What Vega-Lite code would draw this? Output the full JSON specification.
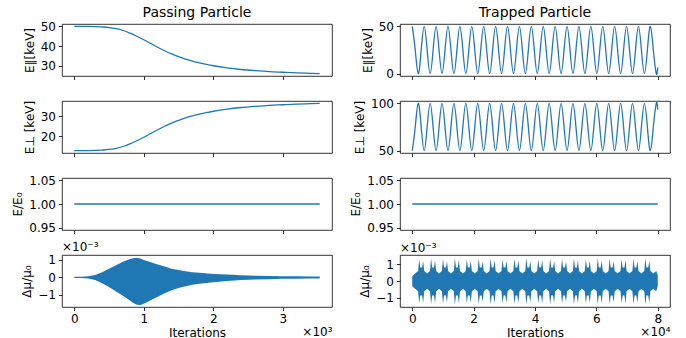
{
  "$schema": "https://vega.github.io/schema/vega-lite/v6.json",
  "padding": {"left": 11, "top": 5, "right": 16, "bottom": 0},
  "background": "white",
  "columns": 2,
  "spacing": {"row": 25, "column": 68},
  "bounds": "flush",
  "align": "all",
  "datasets": {
    "pass": [
      {"x":0,"epar":50.0,"eperp":12.6},{"x":0.2,"epar":49.95,"eperp":12.65},{"x":0.4,"epar":49.7,"eperp":12.9},{"x":0.5,"epar":49.4,"eperp":13.2},{"x":0.6,"epar":48.8,"eperp":13.8},{"x":0.7,"epar":47.9,"eperp":14.7},{"x":0.8,"epar":46.6,"eperp":16.0},{"x":0.9,"epar":45.0,"eperp":17.6},{"x":1.0,"epar":43.2,"eperp":19.4},{"x":1.1,"epar":41.3,"eperp":21.3},{"x":1.2,"epar":39.4,"eperp":23.2},{"x":1.3,"epar":37.6,"eperp":25.0},{"x":1.4,"epar":36.0,"eperp":26.6},{"x":1.5,"epar":34.6,"eperp":28.0},{"x":1.6,"epar":33.4,"eperp":29.2},{"x":1.7,"epar":32.4,"eperp":30.2},{"x":1.8,"epar":31.5,"eperp":31.1},{"x":1.9,"epar":30.7,"eperp":31.9},{"x":2.0,"epar":30.0,"eperp":32.6},{"x":2.2,"epar":28.9,"eperp":33.7},{"x":2.4,"epar":28.1,"eperp":34.5},{"x":2.6,"epar":27.5,"eperp":35.1},{"x":2.8,"epar":27.0,"eperp":35.6},{"x":3.0,"epar":26.7,"eperp":35.9},{"x":3.2,"epar":26.4,"eperp":36.2},{"x":3.4,"epar":26.15,"eperp":36.45},{"x":3.53,"epar":26.0,"eperp":36.6}
    ],
    "trap": [
      {"x":0,"epar":50,"eperp":50},{"x":0.097,"epar":25,"eperp":75},{"x":0.194,"epar":0,"eperp":100},{"x":0.291,"epar":25,"eperp":75},
      {"x":0.388,"epar":50,"eperp":50},{"x":0.485,"epar":25,"eperp":75},{"x":0.582,"epar":0,"eperp":100},{"x":0.679,"epar":25,"eperp":75},
      {"x":0.776,"epar":50,"eperp":50},{"x":0.873,"epar":25,"eperp":75},{"x":0.97,"epar":0,"eperp":100},{"x":1.067,"epar":25,"eperp":75},
      {"x":1.164,"epar":50,"eperp":50},{"x":1.261,"epar":25,"eperp":75},{"x":1.358,"epar":0,"eperp":100},{"x":1.455,"epar":25,"eperp":75},
      {"x":1.552,"epar":50,"eperp":50},{"x":1.649,"epar":25,"eperp":75},{"x":1.746,"epar":0,"eperp":100},{"x":1.843,"epar":25,"eperp":75},
      {"x":1.94,"epar":50,"eperp":50},{"x":2.037,"epar":25,"eperp":75},{"x":2.134,"epar":0,"eperp":100},{"x":2.231,"epar":25,"eperp":75},
      {"x":2.328,"epar":50,"eperp":50},{"x":2.425,"epar":25,"eperp":75},{"x":2.522,"epar":0,"eperp":100},{"x":2.619,"epar":25,"eperp":75},
      {"x":2.716,"epar":50,"eperp":50},{"x":2.813,"epar":25,"eperp":75},{"x":2.91,"epar":0,"eperp":100},{"x":3.007,"epar":25,"eperp":75},
      {"x":3.104,"epar":50,"eperp":50},{"x":3.201,"epar":25,"eperp":75},{"x":3.298,"epar":0,"eperp":100},{"x":3.395,"epar":25,"eperp":75},
      {"x":3.492,"epar":50,"eperp":50},{"x":3.589,"epar":25,"eperp":75},{"x":3.686,"epar":0,"eperp":100},{"x":3.783,"epar":25,"eperp":75},
      {"x":3.88,"epar":50,"eperp":50},{"x":3.977,"epar":25,"eperp":75},{"x":4.074,"epar":0,"eperp":100},{"x":4.171,"epar":25,"eperp":75},
      {"x":4.268,"epar":50,"eperp":50},{"x":4.365,"epar":25,"eperp":75},{"x":4.462,"epar":0,"eperp":100},{"x":4.559,"epar":25,"eperp":75},
      {"x":4.656,"epar":50,"eperp":50},{"x":4.753,"epar":25,"eperp":75},{"x":4.85,"epar":0,"eperp":100},{"x":4.947,"epar":25,"eperp":75},
      {"x":5.044,"epar":50,"eperp":50},{"x":5.141,"epar":25,"eperp":75},{"x":5.238,"epar":0,"eperp":100},{"x":5.335,"epar":25,"eperp":75},
      {"x":5.432,"epar":50,"eperp":50},{"x":5.529,"epar":25,"eperp":75},{"x":5.626,"epar":0,"eperp":100},{"x":5.723,"epar":25,"eperp":75},
      {"x":5.82,"epar":50,"eperp":50},{"x":5.917,"epar":25,"eperp":75},{"x":6.014,"epar":0,"eperp":100},{"x":6.111,"epar":25,"eperp":75},
      {"x":6.208,"epar":50,"eperp":50},{"x":6.305,"epar":25,"eperp":75},{"x":6.402,"epar":0,"eperp":100},{"x":6.499,"epar":25,"eperp":75},
      {"x":6.596,"epar":50,"eperp":50},{"x":6.693,"epar":25,"eperp":75},{"x":6.79,"epar":0,"eperp":100},{"x":6.887,"epar":25,"eperp":75},
      {"x":6.984,"epar":50,"eperp":50},{"x":7.081,"epar":25,"eperp":75},{"x":7.178,"epar":0,"eperp":100},{"x":7.275,"epar":25,"eperp":75},
      {"x":7.372,"epar":50,"eperp":50},{"x":7.469,"epar":25,"eperp":75},{"x":7.566,"epar":0,"eperp":100},{"x":7.663,"epar":25,"eperp":75},
      {"x":7.76,"epar":50,"eperp":50},{"x":7.857,"epar":25,"eperp":75},{"x":7.954,"epar":0,"eperp":100},{"x":8.0,"epar":6.6,"eperp":93.4}
    ],
    "r1": [{"x":0,"r":1},{"x":3.53,"r":1}],
    "r2": [{"x":0,"r":1},{"x":8,"r":1}],
    "mu1": [
      {"x":0,"hi":0.04,"lo":-0.04},{"x":0.1,"hi":0.04,"lo":-0.04},{"x":0.2,"hi":0.06,"lo":-0.06},{"x":0.3,"hi":0.14,"lo":-0.15},{"x":0.4,"hi":0.3,"lo":-0.33},{"x":0.5,"hi":0.5,"lo":-0.55},{"x":0.6,"hi":0.7,"lo":-0.8},{"x":0.7,"hi":0.9,"lo":-1.05},{"x":0.8,"hi":1.05,"lo":-1.32},{"x":0.85,"hi":1.1,"lo":-1.46},{"x":0.9,"hi":1.13,"lo":-1.56},{"x":0.95,"hi":1.08,"lo":-1.58},{"x":1.0,"hi":0.99,"lo":-1.5},{"x":1.1,"hi":0.86,"lo":-1.3},{"x":1.2,"hi":0.74,"lo":-1.1},{"x":1.3,"hi":0.62,"lo":-0.9},{"x":1.4,"hi":0.5,"lo":-0.73},{"x":1.5,"hi":0.42,"lo":-0.6},{"x":1.6,"hi":0.35,"lo":-0.5},{"x":1.7,"hi":0.3,"lo":-0.42},{"x":1.8,"hi":0.26,"lo":-0.36},{"x":2.0,"hi":0.2,"lo":-0.27},{"x":2.2,"hi":0.16,"lo":-0.2},{"x":2.4,"hi":0.12,"lo":-0.15},{"x":2.6,"hi":0.1,"lo":-0.12},{"x":2.8,"hi":0.08,"lo":-0.1},{"x":3.0,"hi":0.07,"lo":-0.08},{"x":3.2,"hi":0.06,"lo":-0.07},{"x":3.4,"hi":0.05,"lo":-0.06},{"x":3.53,"hi":0.05,"lo":-0.06}
    ],
    "mu2": [
      {"x":0,"hi":0.3,"lo":-0.3},
      {"x":0.096,"hi":0.45,"lo":-0.45},{"x":0.19,"hi":0.6,"lo":-0.6},{"x":0.225,"hi":1.3,"lo":-1.32},{"x":0.26,"hi":0.8,"lo":-0.85},{"x":0.32,"hi":0.8,"lo":-0.85},{"x":0.355,"hi":1.2,"lo":-1.28},{"x":0.39,"hi":0.6,"lo":-0.6},
      {"x":0.484,"hi":0.45,"lo":-0.45},{"x":0.578,"hi":0.6,"lo":-0.6},{"x":0.613,"hi":1.35,"lo":-1.37},{"x":0.648,"hi":0.8,"lo":-0.85},{"x":0.708,"hi":0.8,"lo":-0.85},{"x":0.743,"hi":1.22,"lo":-1.3},{"x":0.778,"hi":0.6,"lo":-0.6},
      {"x":0.872,"hi":0.45,"lo":-0.45},{"x":0.966,"hi":0.6,"lo":-0.6},{"x":1.001,"hi":1.33,"lo":-1.35},{"x":1.036,"hi":0.8,"lo":-0.85},{"x":1.096,"hi":0.8,"lo":-0.85},{"x":1.131,"hi":1.18,"lo":-1.26},{"x":1.166,"hi":0.6,"lo":-0.6},
      {"x":1.26,"hi":0.45,"lo":-0.45},{"x":1.354,"hi":0.6,"lo":-0.6},{"x":1.389,"hi":1.37,"lo":-1.39},{"x":1.424,"hi":0.8,"lo":-0.85},{"x":1.484,"hi":0.8,"lo":-0.85},{"x":1.519,"hi":1.25,"lo":-1.33},{"x":1.554,"hi":0.6,"lo":-0.6},
      {"x":1.648,"hi":0.45,"lo":-0.45},{"x":1.742,"hi":0.6,"lo":-0.6},{"x":1.777,"hi":1.3,"lo":-1.32},{"x":1.812,"hi":0.8,"lo":-0.85},{"x":1.872,"hi":0.8,"lo":-0.85},{"x":1.907,"hi":1.2,"lo":-1.28},{"x":1.942,"hi":0.6,"lo":-0.6},
      {"x":2.036,"hi":0.45,"lo":-0.45},{"x":2.13,"hi":0.6,"lo":-0.6},{"x":2.165,"hi":1.35,"lo":-1.37},{"x":2.2,"hi":0.8,"lo":-0.85},{"x":2.26,"hi":0.8,"lo":-0.85},{"x":2.295,"hi":1.15,"lo":-1.23},{"x":2.33,"hi":0.6,"lo":-0.6},
      {"x":2.424,"hi":0.45,"lo":-0.45},{"x":2.518,"hi":0.6,"lo":-0.6},{"x":2.553,"hi":1.36,"lo":-1.38},{"x":2.588,"hi":0.8,"lo":-0.85},{"x":2.648,"hi":0.8,"lo":-0.85},{"x":2.683,"hi":1.24,"lo":-1.32},{"x":2.718,"hi":0.6,"lo":-0.6},
      {"x":2.812,"hi":0.45,"lo":-0.45},{"x":2.906,"hi":0.6,"lo":-0.6},{"x":2.941,"hi":1.3,"lo":-1.32},{"x":2.976,"hi":0.8,"lo":-0.85},{"x":3.036,"hi":0.8,"lo":-0.85},{"x":3.071,"hi":1.2,"lo":-1.28},{"x":3.106,"hi":0.6,"lo":-0.6},
      {"x":3.2,"hi":0.45,"lo":-0.45},{"x":3.294,"hi":0.6,"lo":-0.6},{"x":3.329,"hi":1.34,"lo":-1.36},{"x":3.364,"hi":0.8,"lo":-0.85},{"x":3.424,"hi":0.8,"lo":-0.85},{"x":3.459,"hi":1.22,"lo":-1.3},{"x":3.494,"hi":0.6,"lo":-0.6},
      {"x":3.588,"hi":0.45,"lo":-0.45},{"x":3.682,"hi":0.6,"lo":-0.6},{"x":3.717,"hi":1.37,"lo":-1.39},{"x":3.752,"hi":0.8,"lo":-0.85},{"x":3.812,"hi":0.8,"lo":-0.85},{"x":3.847,"hi":1.18,"lo":-1.26},{"x":3.882,"hi":0.6,"lo":-0.6},
      {"x":3.976,"hi":0.45,"lo":-0.45},{"x":4.07,"hi":0.6,"lo":-0.6},{"x":4.105,"hi":1.3,"lo":-1.32},{"x":4.14,"hi":0.8,"lo":-0.85},{"x":4.2,"hi":0.8,"lo":-0.85},{"x":4.235,"hi":1.25,"lo":-1.33},{"x":4.27,"hi":0.6,"lo":-0.6},
      {"x":4.364,"hi":0.45,"lo":-0.45},{"x":4.458,"hi":0.6,"lo":-0.6},{"x":4.493,"hi":1.35,"lo":-1.37},{"x":4.528,"hi":0.8,"lo":-0.85},{"x":4.588,"hi":0.8,"lo":-0.85},{"x":4.623,"hi":1.2,"lo":-1.28},{"x":4.658,"hi":0.6,"lo":-0.6},
      {"x":4.752,"hi":0.45,"lo":-0.45},{"x":4.846,"hi":0.6,"lo":-0.6},{"x":4.881,"hi":1.33,"lo":-1.35},{"x":4.916,"hi":0.8,"lo":-0.85},{"x":4.976,"hi":0.8,"lo":-0.85},{"x":5.011,"hi":1.16,"lo":-1.24},{"x":5.046,"hi":0.6,"lo":-0.6},
      {"x":5.14,"hi":0.45,"lo":-0.45},{"x":5.234,"hi":0.6,"lo":-0.6},{"x":5.269,"hi":1.37,"lo":-1.39},{"x":5.304,"hi":0.8,"lo":-0.85},{"x":5.364,"hi":0.8,"lo":-0.85},{"x":5.399,"hi":1.24,"lo":-1.32},{"x":5.434,"hi":0.6,"lo":-0.6},
      {"x":5.528,"hi":0.45,"lo":-0.45},{"x":5.622,"hi":0.6,"lo":-0.6},{"x":5.657,"hi":1.3,"lo":-1.32},{"x":5.692,"hi":0.8,"lo":-0.85},{"x":5.752,"hi":0.8,"lo":-0.85},{"x":5.787,"hi":1.2,"lo":-1.28},{"x":5.822,"hi":0.6,"lo":-0.6},
      {"x":5.916,"hi":0.45,"lo":-0.45},{"x":6.01,"hi":0.6,"lo":-0.6},{"x":6.045,"hi":1.35,"lo":-1.37},{"x":6.08,"hi":0.8,"lo":-0.85},{"x":6.14,"hi":0.8,"lo":-0.85},{"x":6.175,"hi":1.22,"lo":-1.3},{"x":6.21,"hi":0.6,"lo":-0.6},
      {"x":6.304,"hi":0.45,"lo":-0.45},{"x":6.398,"hi":0.6,"lo":-0.6},{"x":6.433,"hi":1.36,"lo":-1.38},{"x":6.468,"hi":0.8,"lo":-0.85},{"x":6.528,"hi":0.8,"lo":-0.85},{"x":6.563,"hi":1.18,"lo":-1.26},{"x":6.598,"hi":0.6,"lo":-0.6},
      {"x":6.692,"hi":0.45,"lo":-0.45},{"x":6.786,"hi":0.6,"lo":-0.6},{"x":6.821,"hi":1.3,"lo":-1.32},{"x":6.856,"hi":0.8,"lo":-0.85},{"x":6.916,"hi":0.8,"lo":-0.85},{"x":6.951,"hi":1.25,"lo":-1.33},{"x":6.986,"hi":0.6,"lo":-0.6},
      {"x":7.08,"hi":0.45,"lo":-0.45},{"x":7.174,"hi":0.6,"lo":-0.6},{"x":7.209,"hi":1.34,"lo":-1.36},{"x":7.244,"hi":0.8,"lo":-0.85},{"x":7.304,"hi":0.8,"lo":-0.85},{"x":7.339,"hi":1.2,"lo":-1.28},{"x":7.374,"hi":0.6,"lo":-0.6},
      {"x":7.468,"hi":0.45,"lo":-0.45},{"x":7.562,"hi":0.6,"lo":-0.6},{"x":7.597,"hi":1.37,"lo":-1.39},{"x":7.632,"hi":0.8,"lo":-0.85},{"x":7.692,"hi":0.8,"lo":-0.85},{"x":7.727,"hi":1.22,"lo":-1.3},{"x":7.762,"hi":0.6,"lo":-0.6},
      {"x":7.856,"hi":0.45,"lo":-0.45},{"x":7.95,"hi":0.6,"lo":-0.6},{"x":8.0,"hi":0.35,"lo":-0.3}
    ]
  },
  "concat": [
    {
      "width": 270, "height": 52,
      "title": {"text": "Passing Particle", "frame": "group", "baseline": "alphabetic", "offset": -11},
      "data": {"name": "pass"},
      "mark": {"type": "line", "interpolate": "monotone"},
      "encoding": {
        "x": {"field": "x", "type": "quantitative", "scale": {"domain": [-0.1765, 3.7065], "nice": false, "zero": false}, "axis": {"values": [0, 1, 2, 3], "labels": false, "title": null}},
        "y": {"field": "epar", "type": "quantitative", "scale": {"domain": [24.8, 51.2], "nice": false, "zero": false}, "axis": {"values": [30, 40, 50], "title": "E∥[keV]"}}
      }
    },
    {
      "width": 270, "height": 52,
      "title": {"text": "Trapped Particle", "frame": "group", "baseline": "alphabetic", "offset": -11},
      "data": {"name": "trap"},
      "mark": {"type": "line", "interpolate": "natural"},
      "encoding": {
        "x": {"field": "x", "type": "quantitative", "scale": {"domain": [-0.4, 8.4], "nice": false, "zero": false}, "axis": {"values": [0, 2, 4, 6, 8], "labels": false, "title": null}},
        "y": {"field": "epar", "type": "quantitative", "scale": {"domain": [-2.5, 52.5], "nice": false, "zero": false}, "axis": {"values": [0, 50], "title": "E∥[keV]"}}
      }
    },
    {
      "width": 270, "height": 52,
      "data": {"name": "pass"},
      "mark": {"type": "line", "interpolate": "monotone"},
      "encoding": {
        "x": {"field": "x", "type": "quantitative", "scale": {"domain": [-0.1765, 3.7065], "nice": false, "zero": false}, "axis": {"values": [0, 1, 2, 3], "labels": false, "title": null}},
        "y": {"field": "eperp", "type": "quantitative", "scale": {"domain": [11.4, 37.8], "nice": false, "zero": false}, "axis": {"values": [20, 30], "title": "E⊥ [keV]"}}
      }
    },
    {
      "width": 270, "height": 52,
      "data": {"name": "trap"},
      "mark": {"type": "line", "interpolate": "natural"},
      "encoding": {
        "x": {"field": "x", "type": "quantitative", "scale": {"domain": [-0.4, 8.4], "nice": false, "zero": false}, "axis": {"values": [0, 2, 4, 6, 8], "labels": false, "title": null}},
        "y": {"field": "eperp", "type": "quantitative", "scale": {"domain": [47.5, 102.5], "nice": false, "zero": false}, "axis": {"values": [50, 100], "title": "E⊥ [keV]"}}
      }
    },
    {
      "width": 270, "height": 52,
      "data": {"name": "r1"},
      "mark": {"type": "line"},
      "encoding": {
        "x": {"field": "x", "type": "quantitative", "scale": {"domain": [-0.1765, 3.7065], "nice": false, "zero": false}, "axis": {"values": [0, 1, 2, 3], "labels": false, "title": null}},
        "y": {"field": "r", "type": "quantitative", "scale": {"domain": [0.945, 1.055], "nice": false, "zero": false}, "axis": {"values": [0.95, 1.0, 1.05], "format": ".2f", "title": "E/E₀"}}
      }
    },
    {
      "width": 270, "height": 52,
      "data": {"name": "r2"},
      "mark": {"type": "line"},
      "encoding": {
        "x": {"field": "x", "type": "quantitative", "scale": {"domain": [-0.4, 8.4], "nice": false, "zero": false}, "axis": {"values": [0, 2, 4, 6, 8], "labels": false, "title": null}},
        "y": {"field": "r", "type": "quantitative", "scale": {"domain": [0.945, 1.055], "nice": false, "zero": false}, "axis": {"values": [0.95, 1.0, 1.05], "format": ".2f", "title": "E/E₀"}}
      }
    },
    {
      "width": 270, "height": 52,
      "title": {"text": "×10⁻³", "anchor": "start", "frame": "group", "fontSize": 12, "baseline": "alphabetic", "offset": -9},
      "data": {"name": "mu1"},
      "mark": {"type": "area", "color": "#1f77b4", "opacity": 1},
      "encoding": {
        "x": {"field": "x", "type": "quantitative", "scale": {"domain": [-0.1765, 3.7065], "nice": false, "zero": false},
          "axis": {"values": [0, 1, 2, 3, 3.7065], "title": "Iterations", "labelFlush": false, "labelOverlap": false,
            "labelExpr": "datum.value > 3.6 ? '×10³' : datum.label",
            "labelAlign": {"condition": {"test": "datum.value > 3.6", "value": "right"}, "value": "center"},
            "labelPadding": {"condition": {"test": "datum.value > 3.6", "value": 15.5}, "value": 3},
            "tickOpacity": {"condition": {"test": "datum.value > 3.6", "value": 0}, "value": 1},
            "minExtent": 18, "maxExtent": 18, "titlePadding": 2}},
        "y": {"field": "hi", "type": "quantitative", "scale": {"domain": [-1.69, 1.28], "nice": false, "zero": false}, "axis": {"values": [-1, 0, 1], "title": "Δμ/μ₀"}},
        "y2": {"field": "lo"}
      }
    },
    {
      "width": 270, "height": 52,
      "title": {"text": "×10⁻³", "anchor": "start", "frame": "group", "fontSize": 12, "baseline": "alphabetic", "offset": -9},
      "data": {"name": "mu2"},
      "mark": {"type": "area", "color": "#1f77b4", "opacity": 1},
      "encoding": {
        "x": {"field": "x", "type": "quantitative", "scale": {"domain": [-0.4, 8.4], "nice": false, "zero": false},
          "axis": {"values": [0, 2, 4, 6, 8, 8.4], "title": "Iterations", "labelFlush": false, "labelOverlap": false,
            "labelExpr": "datum.value > 8.2 ? '×10⁴' : datum.label",
            "labelAlign": {"condition": {"test": "datum.value > 8.2", "value": "right"}, "value": "center"},
            "labelPadding": {"condition": {"test": "datum.value > 8.2", "value": 15.5}, "value": 3},
            "tickOpacity": {"condition": {"test": "datum.value > 8.2", "value": 0}, "value": 1},
            "minExtent": 18, "maxExtent": 18, "titlePadding": 2}},
        "y": {"field": "hi", "type": "quantitative", "scale": {"domain": [-1.54, 1.55], "nice": false, "zero": false}, "axis": {"values": [-1, 0, 1], "title": "Δμ/μ₀"}},
        "y2": {"field": "lo"}
      }
    }
  ],
  "config": {
    "font": "DejaVu Sans",
    "view": {"stroke": "#000", "strokeWidth": 0.8},
    "axis": {"domain": false, "grid": false, "tickColor": "#000", "tickWidth": 0.8, "tickSize": 3.5, "labelPadding": 3, "labelFontSize": 12, "labelColor": "#000", "titleFontSize": 12, "titleFontWeight": "normal", "titleColor": "#000", "titlePadding": 4},
    "title": {"fontSize": 14, "fontWeight": "normal", "color": "#000"},
    "line": {"color": "#1f77b4", "strokeWidth": 1.3}
  }
}
